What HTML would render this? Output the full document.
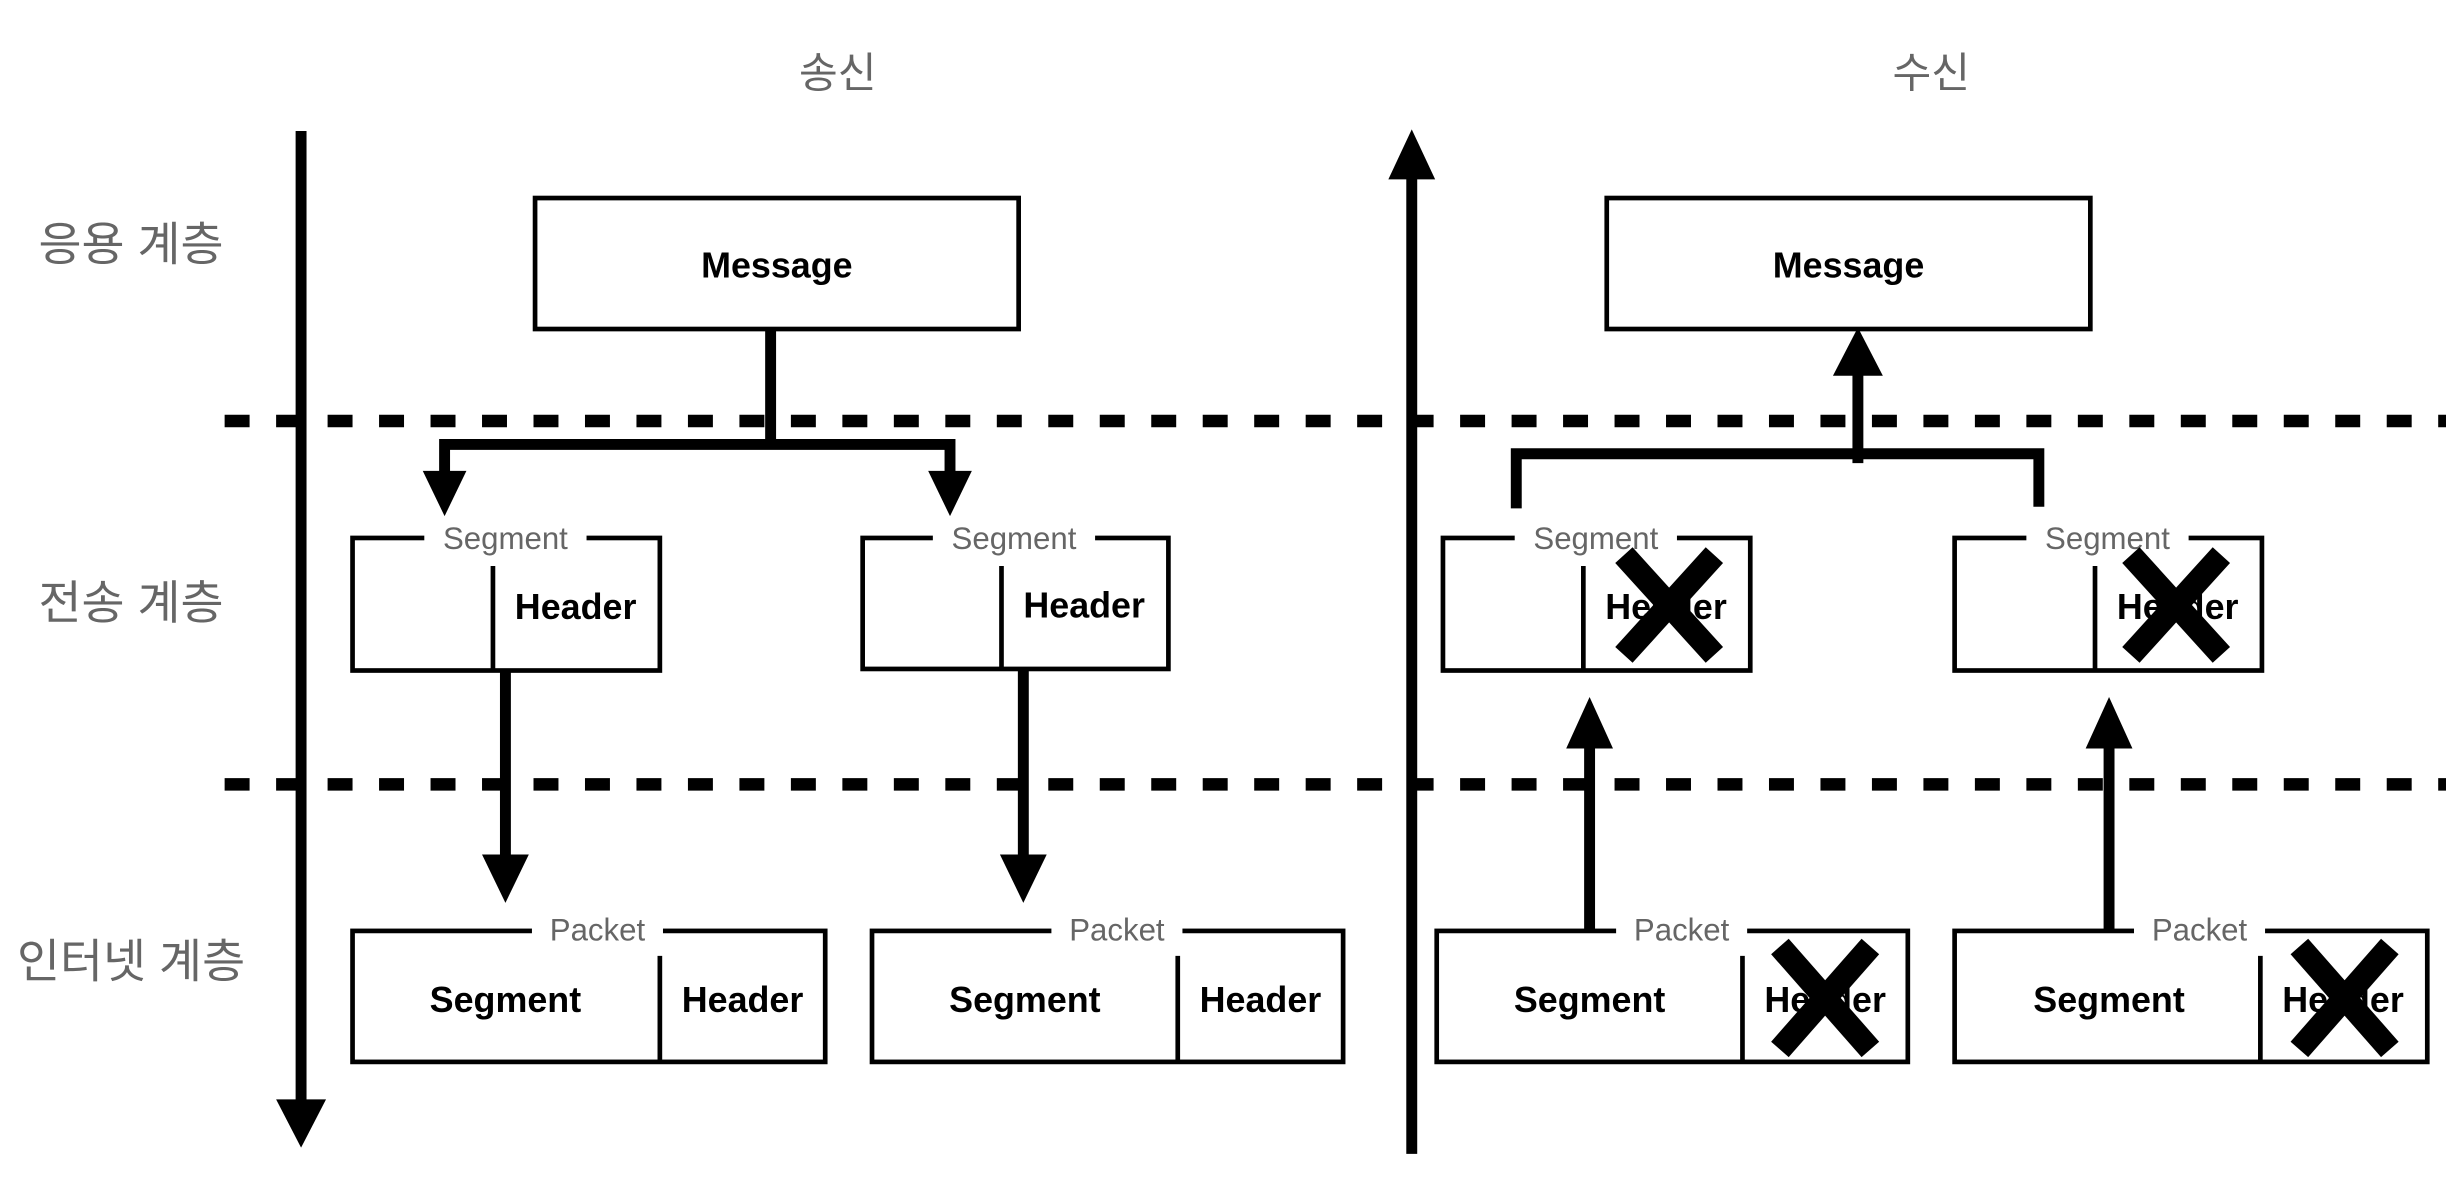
<!DOCTYPE html>
<html><head><meta charset="utf-8"><style>
html,body{margin:0;padding:0;background:#fff;width:2446px;height:1196px;overflow:hidden}
svg{display:block}
.g{font-family:"Liberation Sans","Noto Sans CJK KR",sans-serif;fill:#666}
.b{font-family:"Liberation Sans",sans-serif;font-weight:bold;fill:#000}
</style></head><body>
<svg width="2446" height="1196" viewBox="0 0 1568 767" preserveAspectRatio="none" xmlns="http://www.w3.org/2000/svg">
<rect width="1568" height="767" fill="#fff"/>
<!-- titles -->
<text x="537" y="56" class="g" font-size="27" text-anchor="middle">송신</text>
<text x="1238" y="56" class="g" font-size="27" text-anchor="middle">수신</text>
<text x="84" y="167" class="g" font-size="30" text-anchor="middle">응용 계층</text>
<text x="84" y="397" class="g" font-size="30" text-anchor="middle">전송 계층</text>
<text x="84" y="627" class="g" font-size="30" text-anchor="middle">인터넷 계층</text>
<!-- dashed lines -->
<g stroke="#000" stroke-width="8" stroke-dasharray="16 17">
<line x1="144" y1="270" x2="1568" y2="270"/>
<line x1="144" y1="503" x2="1568" y2="503"/>
</g>
<!-- main axes -->
<line x1="193" y1="84" x2="193" y2="710" stroke="#000" stroke-width="7"/>
<polygon points="177,705 209,705 193,736" fill="#000"/>
<line x1="905" y1="110" x2="905" y2="740" stroke="#000" stroke-width="7"/>
<polygon points="890,115 920,115 905,83" fill="#000"/>
<!-- boxes -->
<g fill="none" stroke="#000" stroke-width="3">
<rect x="343" y="127" width="310" height="84"/>
<rect x="1030" y="127" width="310" height="84"/>
<rect x="226" y="345" width="197" height="85"/><line x1="316" y1="363" x2="316" y2="430"/>
<rect x="553" y="345" width="196" height="84"/><line x1="642" y1="363" x2="642" y2="429"/>
<rect x="925" y="345" width="197" height="85"/><line x1="1015" y1="363" x2="1015" y2="430"/>
<rect x="1253" y="345" width="197" height="85"/><line x1="1343" y1="363" x2="1343" y2="430"/>
<rect x="226" y="597" width="303" height="84"/><line x1="423" y1="613" x2="423" y2="681"/>
<rect x="559" y="597" width="302" height="84"/><line x1="755" y1="613" x2="755" y2="681"/>
<rect x="921" y="597" width="302" height="84"/><line x1="1117" y1="613" x2="1117" y2="681"/>
<rect x="1253" y="597" width="303" height="84"/><line x1="1449" y1="613" x2="1449" y2="681"/>
</g>
<!-- label gaps -->
<g fill="#fff">
<rect x="272" y="340" width="104" height="10"/>
<rect x="598" y="340" width="104" height="10"/>
<rect x="971" y="340" width="104" height="10"/>
<rect x="1299" y="340" width="104" height="10"/>
<rect x="341" y="592" width="84" height="10"/>
<rect x="674" y="592" width="84" height="10"/>
<rect x="1036" y="592" width="84" height="10"/>
<rect x="1368" y="592" width="84" height="10"/>
</g>
<g class="g" font-size="20" text-anchor="middle">
<text x="324" y="352">Segment</text>
<text x="650" y="352">Segment</text>
<text x="1023" y="352">Segment</text>
<text x="1351" y="352">Segment</text>
<text x="383" y="603">Packet</text>
<text x="716" y="603">Packet</text>
<text x="1078" y="603">Packet</text>
<text x="1410" y="603">Packet</text>
</g>
<g class="b" font-size="23" text-anchor="middle">
<text x="498" y="178">Message</text>
<text x="1185" y="178">Message</text>
<text x="369" y="397">Header</text>
<text x="695" y="396">Header</text>
<text x="1068" y="397">Header</text>
<text x="1396" y="397">Header</text>
<text x="324" y="649">Segment</text>
<text x="476" y="649">Header</text>
<text x="657" y="649">Segment</text>
<text x="808" y="649">Header</text>
<text x="1019" y="649">Segment</text>
<text x="1170" y="649">Header</text>
<text x="1352" y="649">Segment</text>
<text x="1502" y="649">Header</text>
</g>
<!-- left tree -->
<g stroke="#000" stroke-width="7" fill="none">
<polyline points="494,211 494,285"/>
<polyline points="285,305 285,285 609,285 609,305"/>
<line x1="324" y1="430" x2="324" y2="552"/>
<line x1="656" y1="429" x2="656" y2="552"/>
</g>
<g fill="#000">
<polygon points="271,302 299,302 285,331"/>
<polygon points="595,302 623,302 609,331"/>
<polygon points="309,548 339,548 324,579"/>
<polygon points="641,548 671,548 656,579"/>
</g>
<!-- right tree -->
<g stroke="#000" stroke-width="7" fill="none">
<polyline points="972,326 972,291 1307,291 1307,325"/>
<line x1="1191" y1="297" x2="1191" y2="236"/>
<line x1="1019" y1="597" x2="1019" y2="475"/>
<line x1="1352" y1="597" x2="1352" y2="475"/>
</g>
<g fill="#000">
<polygon points="1175,241 1207,241 1191,210"/>
<polygon points="1004,480 1034,480 1019,447"/>
<polygon points="1337,480 1367,480 1352,447"/>
</g>
<!-- X marks -->
<g stroke="#000" stroke-width="15">
<line x1="1041" y1="356" x2="1099" y2="420"/><line x1="1099" y1="356" x2="1041" y2="420"/>
<line x1="1366" y1="356" x2="1424" y2="420"/><line x1="1424" y1="356" x2="1366" y2="420"/>
<line x1="1141" y1="607" x2="1199" y2="673"/><line x1="1199" y1="607" x2="1141" y2="673"/>
<line x1="1474" y1="607" x2="1532" y2="673"/><line x1="1532" y1="607" x2="1474" y2="673"/>
</g>
</svg>
</body></html>
